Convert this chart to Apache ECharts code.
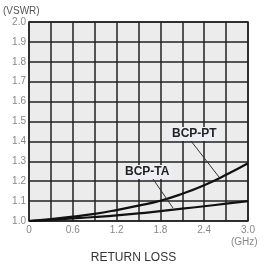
<!DOCTYPE html>
<html>
<head>
<meta charset="utf-8">
<script src="https://cdn.jsdelivr.net/npm/echarts@6/dist/echarts.min.js"></script>
<style>
  html, body { margin: 0; padding: 0; background: #fff; }
  #chart { width: 267px; height: 269px; }
</style>
</head>
<body>
<div id="chart"></div>
<script>
// 频率 (GHz)
var freq = [0, 0.3, 0.6, 0.9, 1.2, 1.5, 1.8, 2.1, 2.4, 2.7, 3.0]
// VSWR
var bcpPT = [1.0, 1.01, 1.022, 1.036, 1.055, 1.077, 1.102, 1.137, 1.18, 1.232, 1.29]
var bcpTA = [1.0, 1.006, 1.013, 1.02, 1.028, 1.038, 1.05, 1.062, 1.074, 1.087, 1.10]
var xTickLabels = ['0', '0.6', '1.2', '1.8', '2.4', '3.0']

function pairs (ys) {
  return freq.map(function (x, i) { return [x, ys[i]] })
}

var myChart = echarts.init(document.getElementById('chart'))
myChart.setOption({
  animation: false,
  backgroundColor: '#fff',
  textStyle: { fontFamily: 'Liberation Sans' },
  grid: {
    left: 29,
    right: 19,
    top: 22,
    bottom: 48,
    show: true,
    backgroundColor: '#ececec',
    borderColor: '#222',
    borderWidth: 1.5
  },
  xAxis: {
    type: 'value',
    min: 0,
    max: 3,
    interval: 0.3,
    axisLine: { show: false },
    axisTick: { show: false },
    splitLine: { show: true, lineStyle: { color: '#222', width: 1.5 } },
    axisLabel: {
      color: '#888',
      fontSize: 10,
      margin: 4,
      showMaxLabel: true,
      formatter: function (v) {
        var k = Math.round(v * 10)
        return k % 6 === 0 ? xTickLabels[k / 6] : ''
      }
    }
  },
  yAxis: {
    type: 'value',
    min: 1.0,
    max: 2.0,
    interval: 0.1,
    axisLine: { show: false },
    axisTick: { show: false },
    splitLine: { show: true, lineStyle: { color: '#222', width: 1.5 } },
    axisLabel: {
      color: '#888',
      fontSize: 10,
      margin: 3,
      formatter: function (v) { return v.toFixed(1) }
    }
  },
  series: [
    {
      name: 'BCP-PT',
      type: 'line',
      smooth: true,
      symbol: 'none',
      lineStyle: { color: '#111', width: 2.2 },
      data: pairs(bcpPT),
      z: 5
    },
    {
      name: 'BCP-TA',
      type: 'line',
      smooth: true,
      symbol: 'none',
      lineStyle: { color: '#111', width: 2.2 },
      data: pairs(bcpTA),
      z: 5
    }
  ],
  graphic: [
    { type: 'text', left: 3, top: 6, style: { text: '(VSWR)', fill: '#555', font: '10px Liberation Sans' } },
    { type: 'text', left: 231, top: 237, style: { text: '(GHz)', fill: '#888', font: '10px Liberation Sans' } },
    { type: 'text', left: 'center', top: 252, style: { text: 'RETURN LOSS', fill: '#333', font: '12px Liberation Sans' } },
    // 引线
    { type: 'line', shape: { x1: 191, y1: 141, x2: 219, y2: 177 }, style: { stroke: '#333', lineWidth: 1 }, z: 10 },
    { type: 'line', shape: { x1: 153, y1: 179, x2: 173, y2: 208 }, style: { stroke: '#333', lineWidth: 1 }, z: 10 },
    {
      type: 'text', x: 170, y: 127, z: 11,
      style: { text: 'BCP-PT', fill: '#222', font: 'bold 12px Liberation Sans', backgroundColor: '#eceef3', padding: [1, 2] }
    },
    {
      type: 'text', x: 123, y: 165, z: 11,
      style: { text: 'BCP-TA', fill: '#222', font: 'bold 12px Liberation Sans', backgroundColor: '#eceef3', padding: [1, 2] }
    }
  ]
})
</script>
</body>
</html>
